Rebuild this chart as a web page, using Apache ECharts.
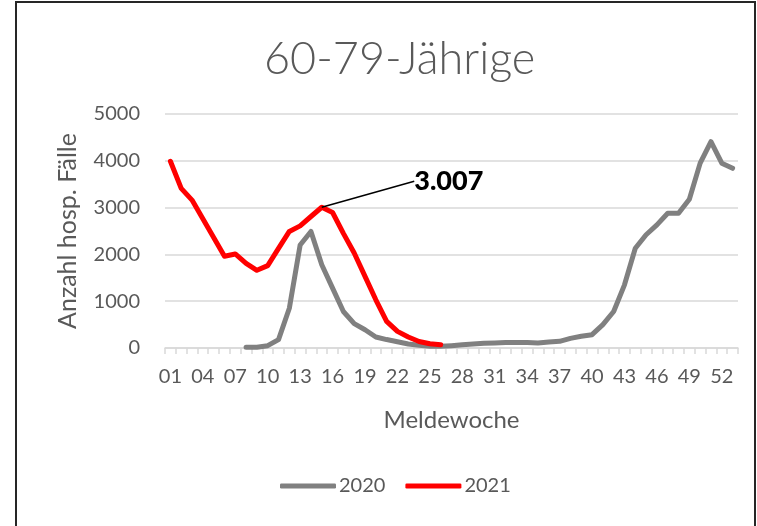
<!DOCTYPE html>
<html lang="de">
<head>
    <meta charset="utf-8">
    <title>60-79-Jährige</title>
    <script src="https://cdn.jsdelivr.net/npm/echarts@6/dist/echarts.min.js"></script>
    <style>
        html, body { margin: 0; padding: 0; background: #fff; overflow: hidden; }
        #Frame {
            position: absolute; left: 15px; top: 1px; width: 737px; height: 540px;
            border: 2px solid #262626; border-bottom: none;
        }
        #Chart { position: absolute; left: 0; top: 0; width: 757px; height: 526px; }
    </style>
</head>
<body>
    <div id="Frame"></div>
    <div id="Chart"></div>
    <script>
        // Meldewochen 01..53
        var weeks = [];
        for (var w = 1; w <= 53; w++) weeks.push(w < 10 ? '0' + w : '' + w);

        // 2020: no data before week 08
        var cases2020 = [
            null, null, null, null, null, null, null,
            15, 15, 50, 180, 850, 2200, 2490, 1780, 1280, 780, 520, 390, 235,
            180, 135, 85, 57, 35, 35, 50, 70, 85, 100, 107, 115, 120, 115, 107,
            128, 142, 206, 250, 285, 500, 780, 1350, 2130, 2420, 2630, 2880, 2880,
            3180, 3950, 4410, 3950, 3840
        ];

        // 2021: data up to week 26
        var cases2021 = [
            3990, 3410, 3160, 2760, 2360, 1960, 2010, 1810, 1660, 1760, 2130, 2490,
            2610, 2810, 3007, 2895, 2450, 2030, 1530, 1030, 570, 355, 235, 140, 90, 70
        ];

        // spring peak 2021 gets the callout
        var calloutWeek = '15';
        var calloutText = '3.007';
        var calloutIndex = weeks.indexOf(calloutWeek);

        var data2021 = cases2021.map(function (v, i) {
            if (i !== calloutIndex) return v;
            return {
                value: v,
                label: {
                    show: true,
                    position: 'inside',
                    formatter: calloutText,
                    fontFamily: 'Lato',
                    fontWeight: 900,
                    fontSize: 27,
                    color: '#000'
                },
                labelLine: { show: true, lineStyle: { color: '#000', width: 1.5 } }
            };
        });

        var textColor = '#595959';
        var chart = echarts.init(document.getElementById('Chart'));
        chart.setOption({
            animation: false,
            textStyle: { fontFamily: 'Lato' },
            title: {
                text: '60-79-Jährige',
                left: 259,
                top: 32,
                textStyle: { fontFamily: 'Lato', fontWeight: 300, fontSize: 45, color: textColor }
            },
            grid: { left: 165, right: 19, top: 114, bottom: 178 },
            legend: {
                bottom: 25,
                left: 275,
                itemWidth: 56,
                itemHeight: 5,
                itemGap: 20,
                icon: 'roundRect',
                textStyle: { fontSize: 20, color: textColor, padding: [0, 0, 0, -2] },
                data: ['2020', '2021']
            },
            xAxis: {
                type: 'category',
                data: weeks,
                boundaryGap: true,
                name: 'Meldewoche',
                nameLocation: 'middle',
                nameGap: 60,
                nameTextStyle: { fontSize: 24, color: textColor },
                axisLine: { lineStyle: { color: '#d9d9d9', width: 1.5 } },
                axisTick: { show: true, interval: 0, length: 6, lineStyle: { color: '#d9d9d9', width: 1.5 } },
                axisLabel: { interval: 2, fontSize: 20, color: textColor, margin: 19 }
            },
            yAxis: {
                type: 'value',
                min: 0,
                max: 5000,
                interval: 1000,
                name: 'Anzahl hosp. Fälle',
                nameLocation: 'middle',
                nameGap: 85,
                nameTextStyle: { fontSize: 25, color: textColor },
                axisLine: { show: false },
                axisTick: { show: false },
                axisLabel: {
                    fontSize: 20, color: textColor, margin: 25,
                    formatter: function (v) { return String(v); }
                },
                splitLine: { lineStyle: { color: '#d9d9d9', width: 1.5 } }
            },
            series: [
                {
                    name: '2020',
                    type: 'line',
                    data: cases2020,
                    showSymbol: false,
                    symbol: 'none',
                    itemStyle: { color: '#808080' },
                    lineStyle: { color: '#808080', width: 5, cap: 'round', join: 'round' }
                },
                {
                    name: '2021',
                    type: 'line',
                    data: data2021,
                    symbol: 'circle',
                    symbolSize: 0,
                    showSymbol: true,
                    showAllSymbol: true,
                    itemStyle: { color: '#ff0000' },
                    lineStyle: { color: '#ff0000', width: 5, cap: 'round', join: 'round' },
                    labelLayout: function (params) {
                        if (params.dataIndex !== calloutIndex) return {};
                        return { dx: 127, dy: -26 };
                    }
                }
            ]
        });
    </script>
</body>
</html>
